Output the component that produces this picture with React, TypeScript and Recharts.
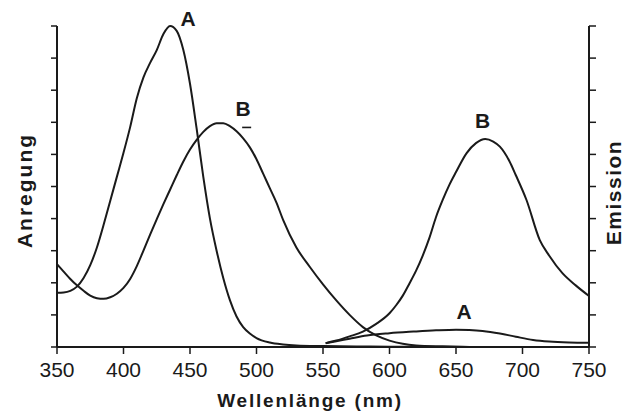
import React from 'react';
import { LineChart, Line, XAxis, YAxis, ReferenceDot, Label } from 'recharts';

const wavelengthTicks = [350, 400, 450, 500, 550, 600, 650, 700, 750];
const intensityTicks = [0, 1, 2, 3, 4, 5, 6, 7, 8, 9, 10];

const excitationA = [
  { nm: 350, v: 1.69 }, { nm: 355, v: 1.7 }, { nm: 360, v: 1.75 }, { nm: 365, v: 1.88 },
  { nm: 370, v: 2.15 }, { nm: 375, v: 2.55 }, { nm: 380, v: 3.1 }, { nm: 385, v: 3.8 },
  { nm: 390, v: 4.55 }, { nm: 395, v: 5.3 }, { nm: 400, v: 6.05 }, { nm: 405, v: 6.85 },
  { nm: 410, v: 7.75 }, { nm: 415, v: 8.4 }, { nm: 420, v: 8.85 }, { nm: 425, v: 9.25 },
  { nm: 430, v: 9.75 }, { nm: 435, v: 10 }, { nm: 440, v: 9.85 }, { nm: 445, v: 9.25 },
  { nm: 450, v: 8.2 }, { nm: 455, v: 6.8 }, { nm: 460, v: 5.3 }, { nm: 465, v: 4.0 },
  { nm: 470, v: 3.0 }, { nm: 475, v: 2.15 }, { nm: 480, v: 1.46 }, { nm: 485, v: 0.95 },
  { nm: 490, v: 0.62 }, { nm: 495, v: 0.42 }, { nm: 500, v: 0.28 }, { nm: 510, v: 0.14 },
  { nm: 520, v: 0.08 }, { nm: 530, v: 0.05 }, { nm: 550, v: 0.03 }, { nm: 575, v: 0.015 },
  { nm: 600, v: 0.01 }, { nm: 625, v: 0.005 }, { nm: 650, v: 0 },
];

const excitationB = [
  { nm: 350, v: 2.58 }, { nm: 355, v: 2.35 }, { nm: 360, v: 2.12 }, { nm: 365, v: 1.92 },
  { nm: 370, v: 1.75 }, { nm: 375, v: 1.6 }, { nm: 380, v: 1.52 }, { nm: 385, v: 1.5 },
  { nm: 390, v: 1.55 }, { nm: 395, v: 1.66 }, { nm: 400, v: 1.84 }, { nm: 405, v: 2.12 },
  { nm: 410, v: 2.52 }, { nm: 415, v: 3.0 }, { nm: 420, v: 3.5 }, { nm: 425, v: 3.98 },
  { nm: 430, v: 4.45 }, { nm: 435, v: 4.9 }, { nm: 440, v: 5.35 }, { nm: 445, v: 5.78 },
  { nm: 450, v: 6.15 }, { nm: 455, v: 6.45 }, { nm: 460, v: 6.7 }, { nm: 465, v: 6.88 },
  { nm: 470, v: 6.97 }, { nm: 475, v: 6.97 }, { nm: 480, v: 6.88 }, { nm: 485, v: 6.72 },
  { nm: 490, v: 6.5 }, { nm: 495, v: 6.22 }, { nm: 500, v: 5.85 }, { nm: 505, v: 5.4 },
  { nm: 510, v: 4.95 }, { nm: 515, v: 4.5 }, { nm: 520, v: 3.96 }, { nm: 530, v: 3.1 },
  { nm: 540, v: 2.5 }, { nm: 550, v: 1.95 }, { nm: 560, v: 1.45 }, { nm: 570, v: 1.0 },
  { nm: 580, v: 0.62 }, { nm: 590, v: 0.36 }, { nm: 600, v: 0.2 }, { nm: 610, v: 0.1 },
  { nm: 620, v: 0.05 }, { nm: 640, v: 0.02 }, { nm: 660, v: 0 },
];

const emissionB = [
  { nm: 552, v: 0.12 }, { nm: 560, v: 0.2 }, { nm: 570, v: 0.33 }, { nm: 580, v: 0.48 },
  { nm: 590, v: 0.72 }, { nm: 600, v: 1.05 }, { nm: 605, v: 1.3 }, { nm: 610, v: 1.6 },
  { nm: 615, v: 1.98 }, { nm: 620, v: 2.38 }, { nm: 625, v: 2.85 }, { nm: 630, v: 3.4 },
  { nm: 635, v: 4.05 }, { nm: 640, v: 4.58 }, { nm: 645, v: 5.05 }, { nm: 650, v: 5.45 },
  { nm: 658, v: 6.04 }, { nm: 665, v: 6.35 }, { nm: 672, v: 6.48 }, { nm: 678, v: 6.4 },
  { nm: 683, v: 6.24 }, { nm: 690, v: 5.8 }, { nm: 695, v: 5.35 }, { nm: 703, v: 4.58 },
  { nm: 713, v: 3.33 }, { nm: 720, v: 2.85 }, { nm: 730, v: 2.3 }, { nm: 740, v: 1.92 },
  { nm: 750, v: 1.59 },
];

const emissionA = [
  { nm: 552, v: 0.12 }, { nm: 560, v: 0.18 }, { nm: 570, v: 0.26 }, { nm: 583, v: 0.36 },
  { nm: 600, v: 0.43 }, { nm: 618, v: 0.48 }, { nm: 635, v: 0.52 }, { nm: 650, v: 0.54 },
  { nm: 660, v: 0.53 }, { nm: 670, v: 0.5 }, { nm: 683, v: 0.42 }, { nm: 695, v: 0.32 },
  { nm: 708, v: 0.22 }, { nm: 720, v: 0.17 }, { nm: 735, v: 0.14 }, { nm: 750, v: 0.13 },
];

const curveLabels = [
  { nm: 448.5, v: 10.23, text: 'A' },
  { nm: 490, v: 7.42, text: 'B' },
  { nm: 669.9, v: 7.06, text: 'B' },
  { nm: 656, v: 1.1, text: 'A' },
];
const dashMarks = [{ nm: 492.6, v: 6.84 }];

const FONT = '"Liberation Sans", Arial, Helvetica, sans-serif';

const LabelText = (props: any) => (
  <text
    x={props.cx}
    y={props.cy + 7.5}
    textAnchor="middle"
    fontFamily={FONT}
    fontWeight="bold"
    fontSize={21}
    fill="#1a1a1a"
  >
    {props.text}
  </text>
);

const DashMark = (props: any) => (
  <line x1={props.cx - 4.5} x2={props.cx + 4.5} y1={props.cy} y2={props.cy} stroke="#1a1a1a" strokeWidth={1.6} />
);

export default function App() {
  return (
    <div style={{ position: 'absolute', left: 0, top: 0, width: 624, height: 416, background: '#fff' }}>
      <LineChart width={624} height={416} margin={{ top: 26, right: 0, bottom: 0, left: 0 }}>
        <XAxis
          type="number"
          dataKey="nm"
          domain={[350, 750]}
          ticks={wavelengthTicks}
          allowDataOverflow
          height={69}
          tickSize={7}
          tickMargin={8}
          axisLine={{ stroke: '#1a1a1a', strokeWidth: 2 }}
          tickLine={{ stroke: '#1a1a1a', strokeWidth: 1.5 }}
          tick={{ fill: '#1a1a1a', fontSize: 21, fontFamily: FONT }}
        >
          <Label
            content={(p: any) => {
              const vb = p.viewBox;
              return (
                <text
                  x={vb.x + vb.width / 2 - 13}
                  y={vb.y + 60}
                  textAnchor="middle"
                  fontFamily={FONT}
                  fontWeight="bold"
                  fontSize={19}
                  letterSpacing={1.8}
                  fill="#1a1a1a"
                >
                  Wellenlänge (nm)
                </text>
              );
            }}
          />
        </XAxis>
        <YAxis
          yAxisId="left"
          domain={[0, 10]}
          ticks={intensityTicks}
          width={57}
          tickSize={6}
          tickFormatter={() => ''}
          axisLine={{ stroke: '#1a1a1a', strokeWidth: 2 }}
          tickLine={{ stroke: '#1a1a1a', strokeWidth: 1.5 }}
        >
          <Label
            content={(p: any) => {
              const vb = p.viewBox;
              const cx = 31.5;
              const cy = vb.y + vb.height / 2 + 4;
              return (
                <text
                  x={cx}
                  y={cy}
                  transform={`rotate(-90 ${cx} ${cy})`}
                  textAnchor="middle"
                  fontFamily={FONT}
                  fontWeight="bold"
                  fontSize={21}
                  letterSpacing={2}
                  fill="#1a1a1a"
                >
                  Anregung
                </text>
              );
            }}
          />
        </YAxis>
        <YAxis
          yAxisId="right"
          orientation="right"
          domain={[0, 10]}
          ticks={intensityTicks}
          width={35}
          tickSize={7}
          tickFormatter={() => ''}
          axisLine={{ stroke: '#1a1a1a', strokeWidth: 2 }}
          tickLine={{ stroke: '#1a1a1a', strokeWidth: 1.5 }}
        >
          <Label
            content={(p: any) => {
              const vb = p.viewBox;
              const cx = vb.x + 32;
              const cy = vb.y + vb.height / 2 + 6;
              return (
                <text
                  x={cx}
                  y={cy}
                  transform={`rotate(-90 ${cx} ${cy})`}
                  textAnchor="middle"
                  fontFamily={FONT}
                  fontWeight="bold"
                  fontSize={21}
                  letterSpacing={1.5}
                  fill="#1a1a1a"
                >
                  Emission
                </text>
              );
            }}
          />
        </YAxis>
        <Line yAxisId="left" data={excitationA} dataKey="v" type="monotone" stroke="#1a1a1a" strokeWidth={2} dot={false} isAnimationActive={false} />
        <Line yAxisId="left" data={excitationB} dataKey="v" type="monotone" stroke="#1a1a1a" strokeWidth={2} dot={false} isAnimationActive={false} />
        <Line yAxisId="right" data={emissionB} dataKey="v" type="monotone" stroke="#1a1a1a" strokeWidth={2} dot={false} isAnimationActive={false} />
        <Line yAxisId="right" data={emissionA} dataKey="v" type="monotone" stroke="#1a1a1a" strokeWidth={2} dot={false} isAnimationActive={false} />
        {curveLabels.map((l, i) => (
          <ReferenceDot
            key={`l${i}`}
            yAxisId="left"
            x={l.nm}
            y={l.v}
            r={0}
            ifOverflow="visible"
            shape={(p: any) => <LabelText {...p} text={l.text} />}
          />
        ))}
        {dashMarks.map((d, i) => (
          <ReferenceDot
            key={`d${i}`}
            yAxisId="left"
            x={d.nm}
            y={d.v}
            r={0}
            ifOverflow="visible"
            shape={(p: any) => <DashMark {...p} />}
          />
        ))}
      </LineChart>
    </div>
  );
}
